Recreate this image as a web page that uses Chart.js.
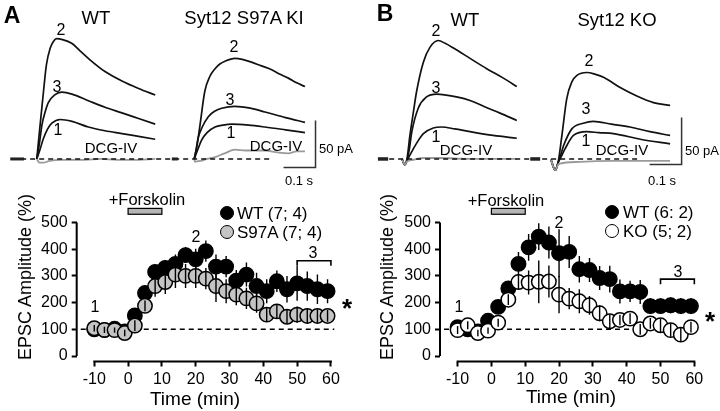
<!DOCTYPE html>
<html>
<head>
<meta charset="utf-8">
<script src="https://cdn.jsdelivr.net/npm/chart.js@4.4.1/dist/chart.umd.min.js"></script>
<style>
  html, body { margin: 0; padding: 0; background: #fff; }
  #fig { position: relative; width: 720px; height: 411px; overflow: hidden;
         font-family: "Liberation Sans", Arial, Helvetica, sans-serif; color: #000; }
  #fig canvas { position: absolute; }
  .t { position: absolute; white-space: nowrap; line-height: 1; transform: translate(-50%, -50%); }
  .l { transform: translate(0, -50%); }
  .dot { position: absolute; width: 14px; height: 14px; box-sizing: border-box; border: 1.5px solid #000;
         border-radius: 50%; transform: translate(-50%, -50%); }
</style>
</head>
<body>
<div id="fig">
  <canvas id="trA" width="360" height="185" style="left:0;top:0"></canvas>
  <canvas id="trB" width="360" height="185" style="left:360px;top:0"></canvas>
  <canvas id="ltpA" width="360" height="226" style="left:0;top:185px"></canvas>
  <canvas id="ltpB" width="360" height="226" style="left:360px;top:185px"></canvas>
</div>
<script>
'use strict';

// ---- time course (min), EPSC amplitude (% of baseline) and SEM ----
const time = [-10, -7, -4, -1, 2, 5, 8, 11, 14, 17, 20, 23, 26, 29, 32, 35, 38, 41, 44, 47, 50, 53, 56, 59];

const aWt     = [100, 97, 102, 92, 152, 236, 315, 330, 345, 378, 362, 393, 335, 335, 282, 305, 262, 243, 280, 250, 272, 262, 250, 243];
const aWtSem  = [12, 10, 12, 10, 22, 25, 28, 30, 35, 30, 40, 40, 45, 40, 40, 45, 50, 45, 40, 50, 65, 55, 55, 45];
const aKi     = [104, 98, 97, 86, 114, 188, 262, 277, 305, 300, 300, 290, 262, 243, 230, 216, 197, 155, 167, 147, 155, 150, 150, 150];
const aKiSem  = [12, 12, 10, 12, 20, 20, 40, 45, 50, 45, 45, 40, 60, 45, 40, 40, 35, 25, 25, 25, 30, 28, 25, 22];

const bWt     = [108, 100, 92, 132, 184, 253, 345, 407, 447, 425, 385, 390, 325, 322, 292, 288, 242, 242, 240, 187, 187, 190, 187, 187];
const bWtSem  = [15, 10, 10, 15, 20, 25, 45, 50, 50, 60, 90, 60, 50, 45, 45, 50, 45, 40, 45, 30, 30, 30, 30, 30];
const bKo     = [97, 115, 86, 95, 125, 211, 277, 275, 278, 279, 230, 215, 205, 190, 160, 130, 135, 140, 100, 122, 115, 97, 80, 108];
const bKoSem  = [15, 15, 12, 12, 15, 20, 30, 45, 80, 60, 70, 40, 45, 35, 30, 25, 20, 20, 20, 20, 25, 25, 25, 20];

const yTicks = [0, 100, 200, 300, 400, 500];
const xTicks = [-10, 0, 10, 20, 30, 40, 50, 60];

// ---- example traces: [ms, pA] ----
const aWt1 = [[0,0],[10,10],[21,22],[34,32],[47,38],[73,42],[110,40],[161,34],[213,30],[266,27],[318,24],[370,21]];
const aWt3 = [[0,0],[8,16],[16,36],[26,50],[36,60],[55,68],[78,71],[110,69],[161,62],[213,55],[266,49],[318,43],[370,37]];
const aWt2 = [[0,0],[10,35],[21,72],[30,100],[42,118],[52,125],[62,128],[80,127],[109,123],[135,115],[161,107],[213,93],[266,83],[318,75],[370,68]];
const aWtDcg = [[0,0],[8,-4],[20,-4],[40,-2],[80,-1],[150,-1],[200,0],[250,-1],[300,-1],[370,0]];

const aKi1 = [[0,0],[10,9],[23,20],[40,28],[65,34],[90,36],[117,37],[170,36],[221,34],[285,31],[346,28]];
const aKi3 = [[0,0],[6,10],[12,22],[25,34],[44,45],[65,51],[86,54],[127,56],[175,54],[221,50],[285,44],[346,39]];
const aKi2 = [[0,0],[9,15],[18,36],[33,72],[49,88],[65,96],[80,101],[96,104],[127,107],[150,106],[179,103],[210,99],[242,95],[268,90],[294,86],[320,81],[346,77]];
const aKiDcg = [[0,0],[2,-3],[20,-2],[40,0],[65,2],[95,6],[127,10],[160,9],[221,9],[260,7],[294,6],[320,8],[346,8]];

const bWt1 = [[-15,0],[-6,-6],[0,-2],[10,4],[21,11],[35,19],[52,27],[83,33],[109,34],[150,32],[198,29],[270,25],[344,22]];
const bWt3 = [[-15,0],[-6,-6],[0,-2],[8,10],[16,29],[36,54],[62,66],[94,69],[156,66],[200,62],[240,56],[290,49],[344,41]];
const bWt2 = [[-15,0],[-6,-6],[0,-2],[10,25],[20,48],[31,72],[52,103],[73,119],[99,126],[120,123],[146,118],[198,107],[250,96],[302,86],[344,77]];
const bWtDcg = [[-15,0],[-6,-6],[0,-3],[20,-1],[52,1],[100,1],[200,0],[344,0]];

const bKo1 = [[-20,0],[-6,-12],[3,-4],[12,2],[25,11],[51,25],[93,29],[130,28],[176,27],[260,21],[353,16]];
const bKo3 = [[-20,0],[-6,-12],[3,-4],[10,3],[20,14],[46,32],[82,38],[113,40],[170,37],[228,34],[290,29],[353,25]];
const bKo2 = [[-20,0],[-6,-12],[3,-4],[15,25],[30,64],[46,82],[62,89],[93,92],[120,90],[145,87],[197,76],[249,67],[301,60],[353,57]];
const bKoDcg = [[-20,0],[-6,-12],[3,-6],[9,-5],[72,-3],[176,-2],[260,-2],[353,-2]];

const fig = document.getElementById('fig');
const FONT = '"Liberation Sans", Arial, Helvetica, sans-serif';

function txt(s, x, y, size, extra, cls) {
  const d = document.createElement('div');
  d.className = 't' + (cls ? ' ' + cls : '');
  d.textContent = s;
  d.style.left = x + 'px';
  d.style.top = y + 'px';
  d.style.fontSize = size + 'px';
  if (extra) Object.assign(d.style, extra);
  fig.appendChild(d);
}
function dot(x, y, fill) {
  const d = document.createElement('div');
  d.className = 'dot';
  d.style.left = x + 'px';
  d.style.top = y + 'px';
  d.style.background = fill;
  fig.appendChild(d);
}

const pts = (arr, off) => arr.map(([t, v]) => ({ x: t + off, y: v }));

// ---- traces ----
function traceLine(arr, off, color, w) {
  return { data: pts(arr, off), borderColor: color, borderWidth: w || 1.7, pointRadius: 0,
           cubicInterpolationMode: 'monotone', fill: false, order: 2 };
}
function segment(arr, color, w, dash, order) {
  return { data: arr.map(([t, v]) => ({ x: t, y: v })), borderColor: color, borderWidth: w,
           borderDash: dash || [], pointRadius: 0, tension: 0, fill: false, order: order };
}

function renderTraces(id, sets, xmin) {
  new Chart(document.getElementById(id), {
    type: 'line',
    data: { datasets: sets },
    options: {
      responsive: false, animation: false, events: [],
      layout: { padding: 0 },
      plugins: { legend: { display: false }, tooltip: { enabled: false } },
      scales: {
        x: { type: 'linear', display: false, min: xmin, max: xmin + 1125 },
        y: { display: false, min: -27.7, max: 169.1 }
      }
    }
  });
}

const offA = 492, offB = 470;
renderTraces('trA', [
  traceLine(aWtDcg, 0, '#9a9a9a', 1.8), traceLine(aWt1, 0, '#111'), traceLine(aWt3, 0, '#111'), traceLine(aWt2, 0, '#111'),
  traceLine(aKiDcg, offA, '#9a9a9a', 1.8), traceLine(aKi1, offA, '#111'), traceLine(aKi3, offA, '#111'), traceLine(aKi2, offA, '#111'),
  segment([[-77, 0], [738, 0]], '#111', 1.5, [5, 4], 1),
  segment([[-83, 0], [-40, 0]], '#222', 3, [], 0),
  segment([[offA - 70, 0], [offA - 51, 0]], '#222', 3, [], 0),
  segment([[771, -9], [871, -9], [871, 41]], '#333', 1.5, [], 0)
], -115);

renderTraces('trB', [
  traceLine(bWtDcg, 0, '#9a9a9a', 1.8), traceLine(bWt1, 0, '#111'), traceLine(bWt3, 0, '#111'), traceLine(bWt2, 0, '#111'),
  traceLine(bKoDcg, offB, '#9a9a9a', 1.8), traceLine(bKo1, offB, '#111'), traceLine(bKo3, offB, '#111'), traceLine(bKo2, offB, '#111'),
  segment([[-83, 0], [720, 0]], '#111', 1.5, [5, 4], 1),
  segment([[-90, 0], [-58, 0]], '#222', 3.5, [], 0),
  segment([[offB - 84, 0], [offB - 53, 0]], '#222', 3.5, [], 0),
  segment([[759, -6], [859, -6], [859, 44]], '#333', 1.5, [], 0)
], -146);

// ---- time course plots ----
const ltpPlugin = {
  id: 'ltpDecor',
  beforeDatasetsDraw(chart) {
    const { ctx, chartArea: a, scales: { x, y } } = chart;
    const o = chart.options.plugins.ltpDecor;
    ctx.save();
    ctx.strokeStyle = '#000';
    ctx.lineWidth = 2;
    ctx.beginPath();
    ctx.moveTo(a.left, y.getPixelForValue(0));
    ctx.lineTo(a.left, y.getPixelForValue(500));
    ctx.moveTo(x.getPixelForValue(-10) - 1, a.bottom);
    ctx.lineTo(x.getPixelForValue(60) + 1, a.bottom);
    ctx.stroke();
    // 100 % baseline
    ctx.lineWidth = 1.4;
    ctx.setLineDash([5, 4]);
    ctx.beginPath();
    ctx.moveTo(x.getPixelForValue(-14), y.getPixelForValue(100));
    ctx.lineTo(x.getPixelForValue(61), y.getPixelForValue(100));
    ctx.stroke();
    ctx.setLineDash([]);
    // forskolin application bar
    const x0 = x.getPixelForValue(0), x1 = x.getPixelForValue(10);
    const y0 = y.getPixelForValue(o.barTop), y1 = y.getPixelForValue(o.barTop - 22);
    ctx.fillStyle = '#b5b5b5';
    ctx.fillRect(x0, y0, x1 - x0, y1 - y0);
    ctx.lineWidth = 1.2;
    ctx.strokeRect(x0, y0, x1 - x0, y1 - y0);
    // bracket "3"
    const by = y.getPixelForValue(o.bracket);
    ctx.lineWidth = 1.6;
    ctx.beginPath();
    ctx.moveTo(x.getPixelForValue(50), by + 5);
    ctx.lineTo(x.getPixelForValue(50), by);
    ctx.lineTo(x.getPixelForValue(60), by);
    ctx.lineTo(x.getPixelForValue(60), by + 5);
    ctx.stroke();
    ctx.restore();
  },
  afterDatasetDraw(chart, args) {
    const ds = chart.data.datasets[args.index];
    if (!ds.sem) return;
    const { ctx, scales: { x, y } } = chart;
    ctx.save();
    ctx.strokeStyle = '#000';
    ctx.lineWidth = 1.4;
    ctx.beginPath();
    ds.data.forEach((p, i) => {
      const px = x.getPixelForValue(p.x);
      ctx.moveTo(px, y.getPixelForValue(p.y - ds.sem[i]));
      ctx.lineTo(px, y.getPixelForValue(p.y + ds.sem[i]));
    });
    ctx.stroke();
    ctx.restore();
  }
};

function series(vals, sem, fill, order) {
  return { data: time.map((t, i) => ({ x: t, y: vals[i] })), sem: sem,
           pointRadius: 7.2, pointBorderWidth: 1.5, pointBorderColor: '#000',
           pointBackgroundColor: fill, showLine: false, clip: false, order: order };
}

function renderLtp(id, sets, yWidth, padRight, decor) {
  new Chart(document.getElementById(id), {
    type: 'scatter',
    data: { datasets: sets },
    plugins: [ltpPlugin],
    options: {
      responsive: false, animation: false, events: [],
      layout: { padding: { top: 32.2, right: padRight, bottom: 0, left: 0 } },
      plugins: { legend: { display: false }, tooltip: { enabled: false }, ltpDecor: decor },
      scales: {
        x: {
          type: 'linear', min: -15.2, max: 62,
          border: { display: false },
          grid: { drawOnChartArea: false, drawTicks: true, tickLength: 5, tickWidth: 2, color: '#000' },
          afterBuildTicks: s => { s.ticks = xTicks.map(v => ({ value: v })); },
          ticks: { color: '#000', padding: 3, maxRotation: 0, font: { family: FONT, size: 16 } },
          afterFit: s => { s.height = 49.5; }
        },
        y: {
          min: -20.6, max: 520,
          border: { display: false },
          grid: { drawOnChartArea: false, drawTicks: true, tickLength: 5, tickWidth: 2, color: '#000' },
          afterBuildTicks: s => { s.ticks = yTicks.map(v => ({ value: v })); },
          ticks: { color: '#000', padding: 4, font: { family: FONT, size: 16 } },
          afterFit: s => { s.width = yWidth; }
        }
      }
    }
  });
}

renderLtp('ltpA', [series(aKi, aKiSem, '#c4c4c4', 1), series(aWt, aWtSem, '#000', 2)], 76.7, 22.3,
  { barTop: 553, bracket: 357 });
renderLtp('ltpB', [series(bKo, bKoSem, '#fff', 1), series(bWt, bWtSem, '#000', 2)], 80, 18.9,
  { barTop: 553, bracket: 288 });

// ---- text ----
txt('A', 12, 15, 23, { fontWeight: 'bold' });
txt('B', 385, 13, 23, { fontWeight: 'bold' });
txt('WT', 96, 18, 18.5);
txt('Syt12 S97A KI', 244, 18, 18.5);
txt('WT', 465, 20, 18.5);
txt('Syt12 KO', 617, 20, 18.5);

txt('2', 61, 30, 16); txt('3', 57, 87, 16); txt('1', 58, 130, 16); txt('DCG-IV', 111, 147, 15);
txt('2', 234, 47, 16); txt('3', 230, 100, 16); txt('1', 231, 133, 16); txt('DCG-IV', 276, 145, 15);
txt('2', 436, 31, 16); txt('3', 436, 88, 16); txt('1', 436, 137, 16); txt('DCG-IV', 466, 149, 15);
txt('2', 589, 61, 16); txt('3', 586, 109, 16); txt('1', 586, 141, 16); txt('DCG-IV', 622, 149, 15);
txt('50 pA', 319, 148, 13, null, 'l');
txt('0.1 s', 299, 180, 13);
txt('50 pA', 685, 150, 13, null, 'l');
txt('0.1 s', 662, 180, 13);

txt('EPSC Amplitude (%)', 25, 277, 18, { transform: 'translate(-50%, -50%) rotate(-90deg)' });
txt('EPSC Amplitude (%)', 387, 277, 18, { transform: 'translate(-50%, -50%) rotate(-90deg)' });
txt('Time (min)', 195, 398, 19);
txt('Time (min)', 571, 396, 19);

txt('+Forskolin', 147, 199, 16.5);
txt('+Forskolin', 506, 200, 16.5);

dot(227, 213, '#000'); txt('WT (7; 4)', 237, 213, 17, null, 'l');
dot(227, 232, '#c4c4c4'); txt('S97A (7; 4)', 237, 232, 17, null, 'l');
dot(612, 212, '#000'); txt('WT (6: 2)', 623, 212, 17, null, 'l');
dot(612, 231, '#fff'); txt('KO (5; 2)', 623, 231, 17, null, 'l');

txt('1', 95, 307, 16); txt('2', 196, 237, 16); txt('3', 313, 253, 16);
txt('1', 459, 307, 16); txt('2', 559, 223, 16); txt('3', 678, 272, 16);
txt('*', 347, 308, 26, { fontWeight: 'bold' });
txt('*', 710, 321, 26, { fontWeight: 'bold' });
</script>
</body>
</html>
